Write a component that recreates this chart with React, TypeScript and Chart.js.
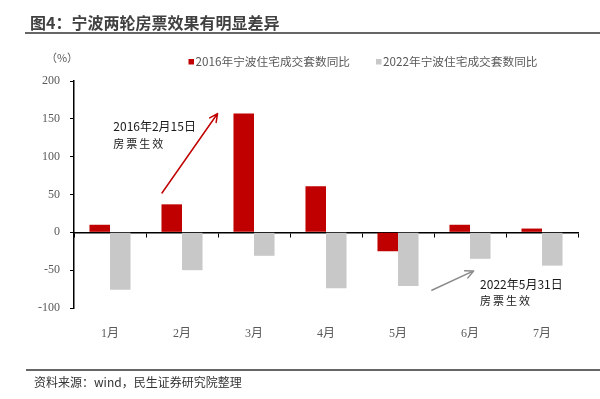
import React, { useEffect, useRef } from "react";
import { Chart, registerables } from "chart.js";

Chart.register(...registerables);

const categories = ["1月", "2月", "3月", "4月", "5月", "6月", "7月"];
const series2016 = [10, 37, 157, 61, -25, 10, 5];
const series2022 = [-76, -50, -31, -74, -71, -35, -44];
const seriesNames = ["2016年宁波住宅成交套数同比", "2022年宁波住宅成交套数同比"];
const yTicks = { min: -100, max: 200, step: 50 };
const titleText = "图4：宁波两轮房票效果有明显差异";
const unitText = "（%）";
const sourceText = "资料来源：wind，民生证券研究院整理";
const note1 = ["2016年2月15日", "房票生效"];
const note2 = ["2022年5月31日", "房票生效"];
// annotation anchors in data coordinates (category index, value)
const arrow1 = { from: [0.722, 52], to: [1.494, 157] };
const arrow2 = { from: [4.47, -76.6], to: [5.05, -51] };
const note1Pos = [0.046, 140, 117.6];
const note2Pos = [5.14, -69, -90];

const RED = "#C00000";
const GRAY = "#C8C8C8";
const CJK = '"Noto Sans CJK SC", "Noto Sans", sans-serif';

function drawArrow(ctx: CanvasRenderingContext2D, x1: number, y1: number, x2: number, y2: number, color: string) {
  ctx.save();
  ctx.strokeStyle = color;
  ctx.lineWidth = 1.5;
  ctx.lineCap = "round";
  ctx.beginPath();
  ctx.moveTo(x1, y1);
  ctx.lineTo(x2, y2);
  const a = Math.atan2(y2 - y1, x2 - x1);
  const len = 9;
  const spread = 0.45;
  ctx.moveTo(x2, y2);
  ctx.lineTo(x2 - len * Math.cos(a - spread), y2 - len * Math.sin(a - spread));
  ctx.moveTo(x2, y2);
  ctx.lineTo(x2 - len * Math.cos(a + spread), y2 - len * Math.sin(a + spread));
  ctx.stroke();
  ctx.restore();
}

const decorPlugin = {
  id: "decor",
  afterDraw(chart: any) {
    const ctx: CanvasRenderingContext2D = chart.ctx;
    const xs = chart.scales.x;
    const ys = chart.scales.y;
    ctx.save();
    // title
    ctx.fillStyle = "#404040";
    ctx.font = `bold 16px ${CJK}`;
    ctx.textBaseline = "middle";
    ctx.textAlign = "left";
    ctx.fillText(titleText, 30, 23);
    ctx.strokeStyle = "#666666";
    ctx.lineWidth = 2;
    ctx.beginPath();
    ctx.moveTo(25, 33);
    ctx.lineTo(600, 33);
    ctx.stroke();
    // unit
    ctx.fillStyle = "#595959";
    ctx.font = `11px ${CJK}`;
    ctx.textAlign = "center";
    ctx.fillText(unitText, 62, 58);
    // legend
    ctx.textAlign = "left";
    ctx.font = `11.7px ${CJK}`;
    const legendX = [188.5, 376];
    const colors = [RED, GRAY];
    for (let i = 0; i < 2; i++) {
      ctx.fillStyle = colors[i];
      ctx.fillRect(legendX[i], 59, 5.5, 5.5);
      ctx.fillStyle = "#595959";
      ctx.fillText(seriesNames[i], legendX[i] + 7, 62);
    }
    // annotations
    drawArrow(
      ctx,
      xs.getPixelForValue(arrow1.from[0]), ys.getPixelForValue(arrow1.from[1]),
      xs.getPixelForValue(arrow1.to[0]), ys.getPixelForValue(arrow1.to[1]),
      RED
    );
    drawArrow(
      ctx,
      xs.getPixelForValue(arrow2.from[0]), ys.getPixelForValue(arrow2.from[1]),
      xs.getPixelForValue(arrow2.to[0]), ys.getPixelForValue(arrow2.to[1]),
      "#8C8C8C"
    );
    ctx.fillStyle = "#1a1a1a";
    const notes: [string[], number[]][] = [[note1, note1Pos], [note2, note2Pos]];
    for (const [txt, pos] of notes) {
      const px = xs.getPixelForValue(pos[0]);
      ctx.font = `12px ${CJK}`;
      (ctx as any).letterSpacing = "0px";
      ctx.fillText(txt[0], px, ys.getPixelForValue(pos[1]));
      ctx.font = `11px ${CJK}`;
      (ctx as any).letterSpacing = "2px";
      ctx.fillText(txt[1], px, ys.getPixelForValue(pos[2]));
      (ctx as any).letterSpacing = "0px";
    }
    // bottom line and source
    ctx.strokeStyle = "#666666";
    ctx.lineWidth = 2;
    ctx.beginPath();
    ctx.moveTo(26, 370);
    ctx.lineTo(600, 370);
    ctx.stroke();
    ctx.fillStyle = "#333333";
    ctx.font = `12px ${CJK}`;
    ctx.fillText(sourceText, 34, 382);
    ctx.restore();
  },
};

export default function App() {
  const ref = useRef<HTMLCanvasElement | null>(null);
  useEffect(() => {
    if (!ref.current) return;
    const chart = new Chart(ref.current, {
      type: "bar",
      data: {
        labels: categories,
        datasets: [
          { label: seriesNames[0], data: series2016, backgroundColor: RED, xAxisID: "x", categoryPercentage: 0.57, barPercentage: 1.0 },
          { label: seriesNames[1], data: series2022, backgroundColor: GRAY, xAxisID: "x", categoryPercentage: 0.57, barPercentage: 1.0 },
        ],
      },
      options: {
        animation: false,
        responsive: false,
        events: [],
        layout: { padding: { left: 0, right: 22, top: 81, bottom: 61 } },
        plugins: { legend: { display: false }, title: { display: false }, tooltip: { enabled: false } },
        scales: {
          x: {
            type: "category",
            position: { y: 0 } as any,
            ticks: { display: false },
            grid: { display: true, offset: true, drawOnChartArea: false, drawTicks: true, tickLength: 4, color: "#000000", lineWidth: 1 },
            border: { display: true, color: "#000000", width: 1.5 },
          },
          x2: {
            type: "category",
            position: "bottom",
            grid: { display: false, drawTicks: false },
            border: { display: false },
            ticks: { color: "#595959", font: { family: '"Liberation Serif", "Noto Sans CJK SC", serif', size: 12 }, padding: 19 },
            afterFit: (s: any) => { s.height = 30; },
          },
          y: {
            min: yTicks.min,
            max: yTicks.max,
            ticks: { stepSize: yTicks.step, color: "#595959", font: { family: '"Liberation Serif", serif', size: 12 }, padding: 10 },
            grid: { display: true, drawOnChartArea: false, drawTicks: true, tickLength: 4, color: "#000000" },
            border: { display: true, color: "#000000", width: 1.5 },
            afterFit: (s: any) => { s.width = 74; },
          },
        },
      },
      plugins: [decorPlugin],
    });
    return () => chart.destroy();
  }, []);
  return (
    <div style={{ position: "fixed", left: 0, top: 0, width: 600, height: 399, background: "#fff" }}>
      <canvas ref={ref} width={600} height={399} style={{ display: "block" }} />
    </div>
  );
}
